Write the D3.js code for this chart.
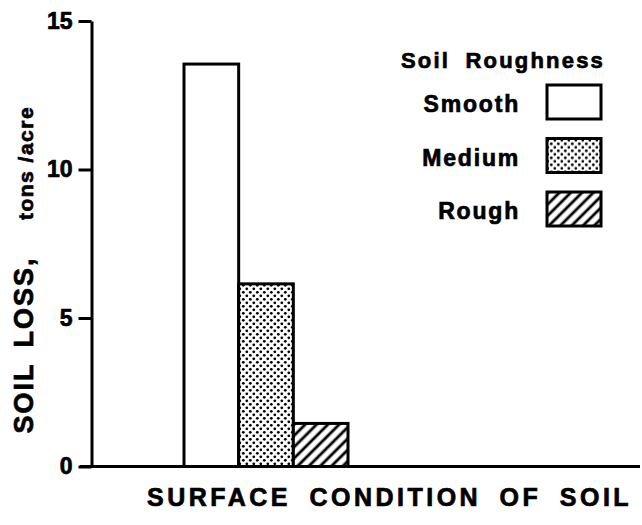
<!DOCTYPE html>
<html><head><meta charset="utf-8">
<script src="https://cdn.jsdelivr.net/npm/d3@7"></script>
<style>
html,body{margin:0;padding:0;background:#fff;}
text{font-family:"Liberation Sans",Arial,Helvetica,sans-serif;font-weight:bold;fill:#000;stroke:#000;stroke-width:0.7px;}
</style></head>
<body>
<script>
const categories = ["Smooth", "Medium", "Rough"];
const soilLoss = [13.55, 6.15, 1.45];
const yTicks = [0, 5, 10, 15];
const legendTitle = "Soil Roughness";
const yTitle = "SOIL LOSS,";
const yUnits = "tons /acre";
const xTitle = "SURFACE CONDITION OF SOIL";

const W = 642, H = 525;
const svg = d3.select("body").append("svg").attr("width", W).attr("height", H);

const defs = svg.append("defs");
const dots = defs.append("pattern").attr("id","dots").attr("patternUnits","userSpaceOnUse")
  .attr("width",7).attr("height",7);
dots.append("rect").attr("width",7).attr("height",7).attr("fill","#fff");
dots.append("circle").attr("cx",1.8).attr("cy",1.8).attr("r",1.4).attr("fill","#000");
dots.append("circle").attr("cx",5.3).attr("cy",5.3).attr("r",1.4).attr("fill","#000");
const hatch = defs.append("pattern").attr("id","hatch").attr("patternUnits","userSpaceOnUse")
  .attr("width",8).attr("height",8).attr("patternTransform","rotate(45)");
hatch.append("rect").attr("width",8).attr("height",8).attr("fill","#fff");
hatch.append("line").attr("x1",4).attr("y1",0).attr("x2",4).attr("y2",8).attr("stroke","#000").attr("stroke-width",2.8);

const fills = {Smooth:"#fff", Medium:"url(#dots)", Rough:"url(#hatch)"};

const y = d3.scaleLinear().domain([0,15]).range([466.5,21]);
const x = d3.scaleBand().domain(categories).range([184,348]).paddingInner(0);

// bars
svg.append("g").selectAll("rect").data(categories).join("rect")
  .attr("x", d => x(d))
  .attr("y", (d,i) => y(soilLoss[i]))
  .attr("width", x.bandwidth())
  .attr("height", (d,i) => y(0) - y(soilLoss[i]))
  .attr("fill", d => fills[d])
  .attr("stroke","#000").attr("stroke-width",3);

// baseline
svg.append("line").attr("x1",80).attr("x2",640).attr("y1",y(0)).attr("y2",y(0))
  .attr("stroke","#000").attr("stroke-width",3);

// y axis
const yAxis = svg.append("g").attr("transform","translate(91.5,0)")
  .call(d3.axisLeft(y).tickValues(yTicks).tickSize(13).tickSizeOuter(0).tickPadding(6));
yAxis.select(".domain").attr("stroke","#000").attr("stroke-width",3);
yAxis.selectAll(".tick line").attr("stroke","#000").attr("stroke-width",3);
yAxis.selectAll(".tick text").attr("font-size",23).attr("font-family",null).attr("fill","#000");

// y titles
svg.append("text").attr("transform","translate(33,345) rotate(-90)")
  .attr("text-anchor","middle").attr("font-size",27).attr("letter-spacing",2).attr("word-spacing",6)
  .text(yTitle);
svg.append("text").attr("transform","translate(33,163) rotate(-90)")
  .attr("text-anchor","middle").attr("font-size",21).attr("letter-spacing",1.5)
  .text(yUnits);

// x title
svg.append("text").attr("x",147).attr("y",506)
  .attr("font-size",25).attr("letter-spacing",3.5).attr("word-spacing",8)
  .text(xTitle);

// legend
svg.append("text").attr("x",401).attr("y",68).attr("font-size",22)
  .attr("letter-spacing",2.2).attr("word-spacing",7).text(legendTitle);
const legY = d3.scalePoint().domain(categories).range([85,192]);
const lg = svg.append("g").selectAll("g").data(categories).join("g")
  .attr("transform", d => `translate(0,${legY(d)})`);
lg.append("rect").attr("x",547).attr("y",0).attr("width",54).attr("height",34)
  .attr("fill", d => fills[d]).attr("stroke","#000").attr("stroke-width",3);
lg.append("text").attr("x",520).attr("y",27).attr("text-anchor","end")
  .attr("font-size",23).attr("letter-spacing",1.8).text(d => d);
</script>
</body></html>
